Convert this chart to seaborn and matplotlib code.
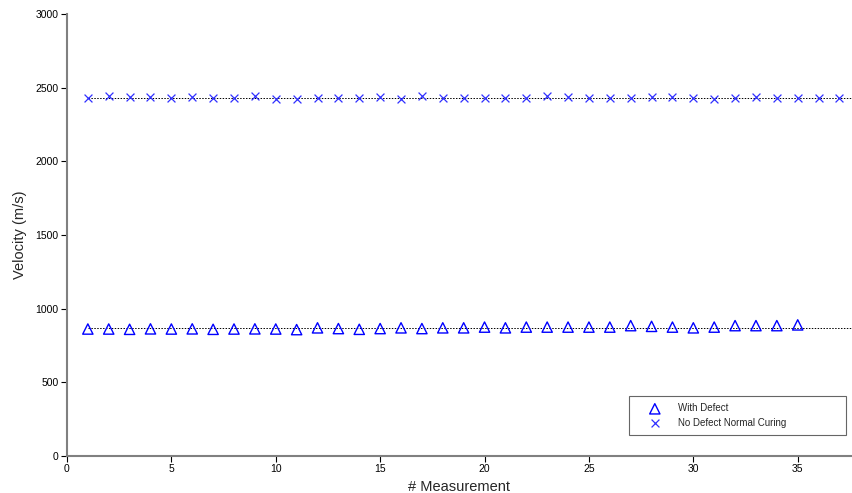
import numpy as np
import pandas as pd
import seaborn as sns
import matplotlib
matplotlib.use('Agg')
import matplotlib.pyplot as plt

# measurement numbers
meas_defect = list(range(1, 36))
meas_normal = list(range(1, 38))

# velocities (m/s)
vel_defect = [862, 862, 860, 863, 862, 863, 860, 862, 863, 862, 858, 870,
              865, 860, 865, 870, 865, 870, 870, 875, 870, 875, 875, 875,
              875, 875, 885, 880, 875, 870, 875, 885, 885, 885, 890]
vel_normal = [2430, 2443, 2436, 2436, 2430, 2436, 2430, 2430, 2443, 2423,
              2423, 2430, 2430, 2430, 2436, 2423, 2443, 2430, 2430, 2430,
              2430, 2430, 2443, 2436, 2430, 2430, 2430, 2436, 2436, 2430,
              2423, 2430, 2436, 2430, 2430, 2430, 2430]

df_def = pd.DataFrame({'m': meas_defect, 'v': vel_defect})
df_nor = pd.DataFrame({'m': meas_normal, 'v': vel_normal})

sns.set_style('white')
plt.rcParams['font.family'] = ['Liberation Sans', 'DejaVu Sans']

fig = plt.figure(figsize=(8.52, 4.93), dpi=100)
ax = fig.add_axes([0.0786, 0.075, 0.9214, 0.8966])

# mean lines (dotted)
for d in (df_def, df_nor):
    ax.hlines(d['v'].mean(), 1, 40, colors='black', linewidth=0.7,
              linestyles=(0, (1.5, 1.5)), zorder=1)

sns.scatterplot(data=df_def, x='m', y='v', marker='^', s=55,
                facecolor='none', edgecolor='#0000ff', linewidth=1.0,
                label='With Defect', ax=ax, zorder=3)
sns.scatterplot(data=df_nor, x='m', y='v', marker='x', s=32,
                color='#3030ff', linewidth=0.9,
                label='No Defect Normal Curing', ax=ax, zorder=3)

ax.set_xlim(0, 37.6)
ax.set_ylim(0, 3000)
ax.set_xticks(range(0, 36, 5))
ax.set_yticks(range(0, 3001, 500))
ax.tick_params(axis='both', direction='out', length=4, width=0.8,
               labelsize=7.5, colors='black', left=True, bottom=True, pad=2)
for s in ('top', 'right'):
    ax.spines[s].set_visible(False)
for s in ('left', 'bottom'):
    ax.spines[s].set_color('#808080')
    ax.spines[s].set_linewidth(1.5)

ax.set_xlabel('# Measurement', fontsize=10.5, labelpad=4)
ax.set_ylabel('Velocity (m/s)', fontsize=10.5, labelpad=6)

leg = ax.legend(loc='lower left', bbox_to_anchor=(0.716, 0.0475, 0.276, 0.086),
                mode='expand', fontsize=7, frameon=True, fancybox=False,
                edgecolor='#404040', borderpad=0.75, handlelength=3.8,
                handletextpad=0.5, labelspacing=0.45, borderaxespad=0)
leg.get_frame().set_linewidth(0.8)

fig.savefig('out.png', dpi=100)
